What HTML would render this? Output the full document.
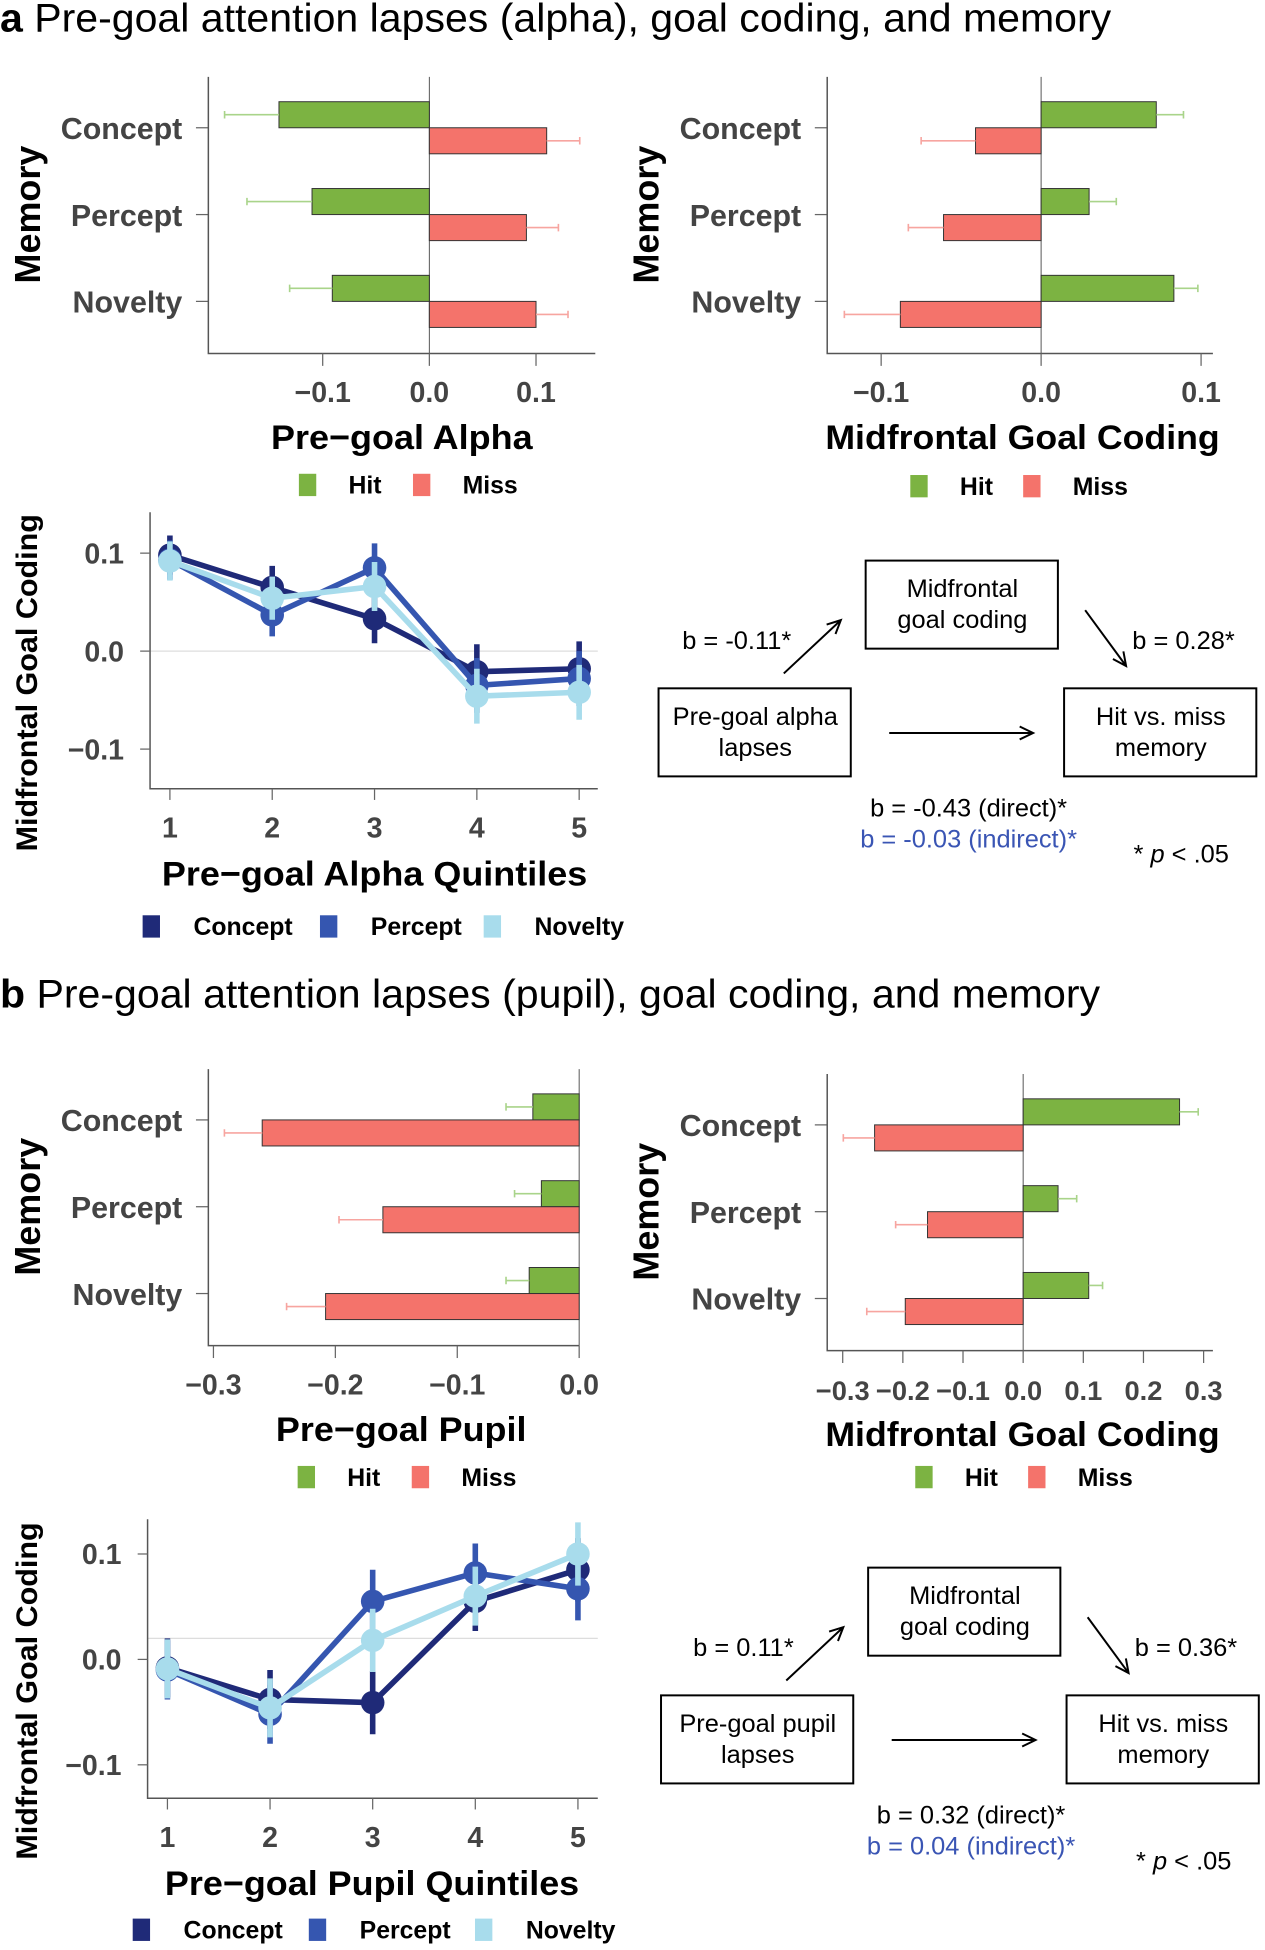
<!DOCTYPE html>
<html><head><meta charset="utf-8"><style>
html,body{margin:0;padding:0;background:#fff}
svg{display:block}
text{font-family:"Liberation Sans",Arial,sans-serif}
</style></head><body>
<svg id="fig" xmlns="http://www.w3.org/2000/svg" width="1265" height="1950" viewBox="0 0 1020 1572.3"></svg>
<script>
// ---------- DATA ----------
const categories = ["Concept","Percept","Novelty"];
const alphaHit = [-0.141,-0.110,-0.091];
const alphaHitErr = [0.051,0.061,0.040];
const alphaMiss = [0.110,0.091,0.100];
const alphaMissErr = [0.031,0.030,0.030];
const gcHit = [0.072,0.030,0.083];
const gcHitErr = [0.017,0.017,0.015];
const gcMiss = [-0.041,-0.061,-0.088];
const gcMissErr = [0.034,0.022,0.035];
const pupilHit = [-0.038,-0.031,-0.041];
const pupilHitErr = [0.022,0.022,0.019];
const pupilMiss = [-0.260,-0.161,-0.208];
const pupilMissErr = [0.031,0.036,0.032];
const gc2Hit = [0.260,0.058,0.109];
const gc2HitErr = [0.031,0.031,0.023];
const gc2Miss = [-0.247,-0.159,-0.196];
const gc2MissErr = [0.052,0.053,0.064];
const quintiles = [1,2,3,4,5];
const series = ["Concept","Percept","Novelty"];
const alphaConcept = [0.098,0.065,0.033,-0.021,-0.018];
const alphaPercept = [0.093,0.037,0.085,-0.035,-0.028];
const alphaNovelty = [0.092,0.054,0.066,-0.046,-0.042];
const alphaErr = [0.020,0.022,0.025,0.028,0.028];
const pupilConcept = [-0.008,-0.038,-0.041,0.055,0.085];
const pupilPercept = [-0.010,-0.052,0.055,0.082,0.067];
const pupilNovelty = [-0.009,-0.046,0.018,0.060,0.100];
const pupilErr = [0.028,0.028,0.030,0.028,0.030];
const ticksA = [-0.1,0.0,0.1];
const ticksP = [-0.3,-0.2,-0.1,0.0];
const ticksG2 = [-0.3,-0.2,-0.1,0.0,0.1,0.2,0.3];
const ticksLine = [-0.1,0.0,0.1];

// ---------- HELPERS ----------
const NS="http://www.w3.org/2000/svg";
const svg=document.getElementById('fig');
function mk(tag,attrs,parent){const e=document.createElementNS(NS,tag);for(const k in attrs)e.setAttribute(k,attrs[k]);(parent||svg).appendChild(e);return e;}
function txt(s,x,y,size,opts,parent){opts=opts||{};const e=mk('text',{x:x,y:y,'font-size':size,'text-anchor':opts.anchor||'start','font-weight':opts.bold?'bold':'normal',fill:opts.fill||'#000','dominant-baseline':'central'},parent);if(opts.len){e.setAttribute('textLength',opts.len);e.setAttribute('lengthAdjust','spacingAndGlyphs');}if(opts.rot)e.setAttribute('transform','rotate(-90 '+x+' '+y+')');e.textContent=s;return e;}
function fmt(v){return (v<0?'\u2212':'')+Math.abs(v).toFixed(1);}
const GREEN="#7cb342",RED="#f4736b",GERR="#a9d48a",RERR="#f7a5a0";
const SCOL=["#1f2a78","#3556b0","#a8dcec"];

// ---------- BAR CHART ----------
function barChart(name,o){
  const g=mk('g',{});
  
  
  const sx=v=>o.x0+(v-o.vmin)/(o.vmax-o.vmin)*(o.x1-o.x0);
  const cy=[o.cy0,o.cy0+70,o.cy0+140];
  const z=mk('line',{x1:sx(0),x2:sx(0),y1:o.top,y2:o.bot,stroke:'#555','stroke-width':0.8},g);
  
  
  categories.forEach((c,i)=>{
    [[o.hit[i],o.hitErr[i],GREEN,GERR,-21,'hit'],[o.miss[i],o.missErr[i],RED,RERR,0,'miss']].forEach(b=>{
      const v=b[0],x=Math.min(sx(0),sx(v)),w=Math.abs(sx(v)-sx(0));
      const r=mk('rect',{x:x,y:cy[i]+b[4],width:w,height:21,fill:b[2],stroke:'#333','stroke-width':0.8},g);
      
      
      const ev=v<0?v-b[1]:v+b[1],ym=cy[i]+b[4]+10.5;
      const e=mk('path',{d:'M'+sx(v)+' '+ym+'H'+sx(ev)+'M'+sx(ev)+' '+(ym-3)+'V'+(ym+3),stroke:b[3],'stroke-width':1.3,fill:'none'},g);
      
      
    });
    const t=mk('line',{x1:o.x0-10,x2:o.x0,y1:cy[i],y2:cy[i],stroke:'#666','stroke-width':1},g);
    
    
    const l=txt(c,o.x0-21,cy[i]+1,24.5,{anchor:'end',bold:true,fill:'#444'},g);
    
    
  });
  const ax=mk('path',{d:'M'+o.x0+' '+o.top+'V'+o.bot+'H'+o.x1,stroke:'#555','stroke-width':1.2,fill:'none'},g);
  
  
  o.ticks.forEach(tv=>{
    const tk=mk('line',{x1:sx(tv),x2:sx(tv),y1:o.bot,y2:o.bot+10,stroke:'#666','stroke-width':1},g);
    
    
    const tl=txt(fmt(tv),sx(tv),o.bot+32,o.tfs||23,{anchor:'middle',bold:true,fill:'#444'},g);
    
    
  });
  const xt=txt(o.xtitle,(o.x0+o.x1)/2+(o.xtOff||0),o.bot+68,28,{anchor:'middle',bold:true,len:o.xtLen},g);
  
  
  const yt=txt('Memory',o.ytx,o.cy0+70,29,{anchor:'middle',bold:true,rot:true},g);
  
  
  [[o.lg[0],GREEN,'Hit'],[o.lg[1],RED,'Miss']].forEach(L=>{
    const s=mk('rect',{x:L[0]-7,y:o.lgy-9,width:14,height:18,fill:L[1]},g);
    
    
    const lt=txt(L[2],L[0]+33,o.lgy+1,20,{bold:true},g);
    
    
  });
}

// ---------- LINE CHART ----------
function lineChart(name,o){
  const g=mk('g',{});
  
  
  const sy=v=>o.y0-v*o.ppu;
  const sx=q=>o.xq1+(q-1)*o.dx;
  const gl=mk('line',{x1:o.left,x2:o.right,y1:sy(o.grid),y2:sy(o.grid),stroke:'#ddd','stroke-width':1},g);
  
  
  const ax=mk('path',{d:'M'+o.left+' '+o.top+'V'+o.bot+'H'+o.right,stroke:'#555','stroke-width':1.2,fill:'none'},g);
  
  
  ticksLine.forEach(tv=>{
    const tk=mk('line',{x1:o.left-8,x2:o.left,y1:sy(tv),y2:sy(tv),stroke:'#666'},g);
    
    
    const tl=txt(fmt(tv),o.left-21,sy(tv)+1,23,{anchor:'end',bold:true,fill:'#444'},g);
    
    
  });
  quintiles.forEach(q=>{
    const tk=mk('line',{x1:sx(q),x2:sx(q),y1:o.bot,y2:o.bot+9,stroke:'#666'},g);
    
    
    const tl=txt(String(q),sx(q),o.bot+32,23,{anchor:'middle',bold:true,fill:'#444'},g);
    
    
  });
  o.data.forEach((d,si)=>{
    const col=SCOL[si];
    const pl=mk('polyline',{points:d.map((v,i)=>sx(quintiles[i])+','+sy(v)).join(' '),fill:'none',stroke:col,'stroke-width':4.5},g);
    
    
    d.forEach((v,i)=>{
      const e=mk('line',{x1:sx(quintiles[i]),x2:sx(quintiles[i]),y1:sy(v+o.err[i]),y2:sy(v-o.err[i]),stroke:col,'stroke-width':4.5},g);
      
      
      const c=mk('circle',{cx:sx(quintiles[i]),cy:sy(v),r:9.5,fill:col},g);
      
      
    });
  });
  const xt=txt(o.xtitle,o.xtx,o.bot+69,28,{anchor:'middle',bold:true,len:o.xtLen},g);
  
  
  const yt=txt('Midfrontal Goal Coding',22,(o.top+o.bot)/2+26,24,{anchor:'middle',bold:true,rot:true,len:272},g);
  
  
  series.forEach((s,si)=>{
    const sw=mk('rect',{x:o.lg[si]-7,y:o.lgy-9,width:14,height:18,fill:SCOL[si]},g);
    
    
    const lt=txt(s,o.lg[si]+34,o.lgy+1,20,{bold:true},g);
    
    
  });
}

// ---------- MEDIATION DIAGRAM ----------
function diagram(name,ox,oy,L,a,b,direct,indirect){
  const g=mk('g',{});
  
  
  const boxes=[[698,452,'Midfrontal','goal coding','mediator-box'],[531,555,L[0],L[1],'predictor-box'],[858,555,'Hit vs. miss','memory','outcome-box']];
  boxes.forEach(bx=>{
    const r=mk('rect',{x:bx[0]+ox,y:bx[1]+oy,width:155,height:71,fill:'#fff',stroke:'#000','stroke-width':1.6},g);
    
    
    const t1=txt(bx[2],bx[0]+ox+78,bx[1]+oy+23,20.5,{anchor:'middle'},g);
    
    
    const t2=txt(bx[3],bx[0]+ox+78,bx[1]+oy+48,20.5,{anchor:'middle'},g);
    
    
  });
  function arrow(x1,y1,x2,y2,nm){
    const ang=Math.atan2(y2-y1,x2-x1),h=12;
    const p='M'+x1+' '+y1+'L'+x2+' '+y2+'M'+(x2-h*Math.cos(ang-0.45))+' '+(y2-h*Math.sin(ang-0.45))+'L'+x2+' '+y2+'L'+(x2-h*Math.cos(ang+0.45))+' '+(y2-h*Math.sin(ang+0.45));
    const e=mk('path',{d:p,stroke:'#000','stroke-width':1.6,fill:'none'},g);
    
    
  }
  arrow(632+ox,543+oy,678+ox,500+oy,'arrow-a-path');
  arrow(875+ox,492+oy,908+ox,537+oy,'arrow-b-path');
  arrow(717+ox,591+oy,833+ox,591+oy,'arrow-direct-path');
  const ta=txt(a,638+ox,517+oy,20.5,{anchor:'end'},g);
  
  
  const tb=txt(b,913+ox,517+oy,20.5,{},g);
  
  
  const td=txt(direct,781+ox,652+oy,20.5,{anchor:'middle'},g);
  
  
  const ti=txt(indirect,781+ox,677+oy,20.5,{anchor:'middle',fill:'#3a55b4'},g);
  
  
  const tp=mk('text',{x:914+ox,y:689+oy,'font-size':20.5,'dominant-baseline':'central'},g);
  tp.innerHTML='* <tspan font-style="italic">p</tspan> &lt; .05';
  
  
}

// ---------- BUILD ----------
const ta=mk('text',{x:0,y:15,'font-size':32,'dominant-baseline':'central',textLength:896,lengthAdjust:'spacingAndGlyphs'});
ta.innerHTML='<tspan font-weight="bold">a</tspan> Pre-goal attention lapses (alpha), goal coding, and memory';


const tb=mk('text',{x:0,y:802,'font-size':32,'dominant-baseline':'central',textLength:887,lengthAdjust:'spacingAndGlyphs'});
tb.innerHTML='<tspan font-weight="bold">b</tspan> Pre-goal attention lapses (pupil), goal coding, and memory';



barChart('alpha-bar-chart',{x0:168,x1:480,vmin:-0.20721,vmax:0.15558,top:62,bot:285,cy0:103,hit:alphaHit,hitErr:alphaHitErr,miss:alphaMiss,missErr:alphaMissErr,ticks:ticksA,xtitle:'Pre\u2212goal Alpha',xtLen:211,ytx:22,lg:[248,340],lgy:391});
barChart('goal-coding-bar-chart-a',{x0:667,x1:978,vmin:-0.13372,vmax:0.1074,top:62,bot:285,cy0:103,hit:gcHit,hitErr:gcHitErr,miss:gcMiss,missErr:gcMissErr,ticks:ticksA,xtitle:'Midfrontal Goal Coding',xtLen:318,xtOff:2,ytx:521,lg:[741,832],lgy:392});
barChart('pupil-bar-chart',{x0:168,x1:467,vmin:-0.30417,vmax:0,top:862,bot:1085,cy0:903,hit:pupilHit,hitErr:pupilHitErr,miss:pupilMiss,missErr:pupilMissErr,ticks:ticksP,xtitle:'Pre\u2212goal Pupil',xtLen:202,xtOff:6,ytx:22,lg:[247,339],lgy:1191});
barChart('goal-coding-bar-chart-b',{x0:667,x1:978,vmin:-0.32577,vmax:0.31546,top:866,bot:1089,cy0:907,hit:gc2Hit,hitErr:gc2HitErr,miss:gc2Miss,missErr:gc2MissErr,ticks:ticksG2,tfs:22,xtitle:'Midfrontal Goal Coding',xtLen:318,xtOff:2,ytx:521,lg:[745,836],lgy:1191});

lineChart('alpha-quintile-line-chart',{left:121,right:482,top:413,bot:636,y0:525,ppu:790,xq1:137,dx:82.5,grid:0,data:[alphaConcept,alphaPercept,alphaNovelty],err:alphaErr,xtitle:'Pre\u2212goal Alpha Quintiles',xtLen:343,xtx:302,lg:[122,265,397],lgy:747});
lineChart('pupil-quintile-line-chart',{left:119,right:482,top:1225,bot:1450,y0:1338,ppu:850,xq1:135,dx:82.75,grid:0.02,data:[pupilConcept,pupilPercept,pupilNovelty],err:pupilErr,xtitle:'Pre\u2212goal Pupil Quintiles',xtLen:334,xtx:300,lg:[114,256,390],lgy:1556});

diagram('mediation-diagram-alpha',0,0,['Pre-goal alpha','lapses'],'b = -0.11*','b = 0.28*','b = -0.43 (direct)*','b = -0.03 (indirect)*');
diagram('mediation-diagram-pupil',2,812,['Pre-goal pupil','lapses'],'b = 0.11*','b = 0.36*','b = 0.32 (direct)*','b = 0.04 (indirect)*');
</script>
</body></html>
